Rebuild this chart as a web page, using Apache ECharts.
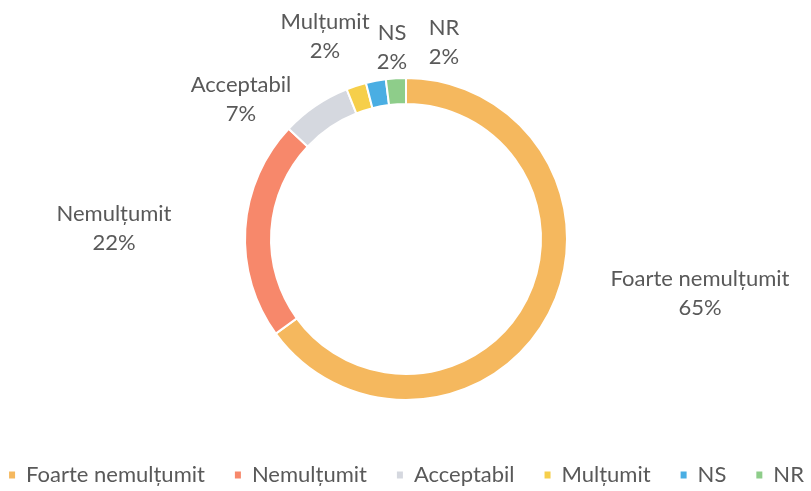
<!DOCTYPE html>
<html lang="ro">
<head>
    <meta charset="UTF-8">
    <title>Satisfacție</title>
    <script src="https://cdn.jsdelivr.net/npm/echarts@6/dist/echarts.min.js"></script>
    <style>
        html, body { margin: 0; padding: 0; background: #fff; }
    </style>
</head>
<body>
    <div id="main" style="width: 811px;height:491px;"></div>
</body>
    <script type="text/javascript">
        // date
        var categories = ['Foarte nemulțumit', 'Nemulțumit', 'Acceptabil', 'Mulțumit', 'NS', 'NR'];
        var values = [65, 22, 7, 2, 2, 2];
        var colors = ['#F5B85E', '#F7886B', '#D5D8DF', '#F6CF4B', '#4AAEE3', '#8ECD8A'];
        // unde stau etichetele fata de centrul cercului (px)
        var labelOffsets = [[294, 54], [-292, -11], [-165, -140], [-81, -203], [-14, -192], [38, -197]];

        var myChart = echarts.init(document.getElementById('main'));
        var cx = 406, cy = 239;

        var seriesData = categories.map(function (name, i) {
            return { name: name, value: values[i], itemStyle: { color: colors[i] } };
        });

        option = {
            backgroundColor: '#fff',
            legend: {
                bottom: 0,
                left: 'center',
                icon: 'rect',
                itemWidth: 8,
                itemHeight: 9,
                itemGap: 28,
                textStyle: {
                    color: '#595959',
                    fontFamily: 'Lato',
                    fontSize: 22,
                    padding: [0, 0, 0, 5]
                },
                data: categories
            },
            series: [
                {
                    type: 'pie',
                    center: [cx, cy],
                    radius: [135, 161],
                    startAngle: 90,
                    clockwise: true,
                    avoidLabelOverlap: false,
                    itemStyle: {
                        borderColor: '#fff',
                        borderWidth: 2
                    },
                    label: {
                        show: true,
                        position: 'outside',
                        color: '#595959',
                        fontFamily: 'Lato',
                        fontSize: 22,
                        lineHeight: 29,
                        align: 'center',
                        formatter: function (p) {
                            return p.name + '\n' + Math.round(p.percent) + '%';
                        }
                    },
                    labelLine: {
                        show: false
                    },
                    labelLayout: function (params) {
                        var o = labelOffsets[params.dataIndex];
                        return {
                            x: cx + o[0],
                            y: cy + o[1],
                            align: 'center',
                            verticalAlign: 'middle'
                        };
                    },
                    emphasis: { disabled: true },
                    data: seriesData
                }
            ]
        };

        myChart.setOption(option);
    </script>
</html>
